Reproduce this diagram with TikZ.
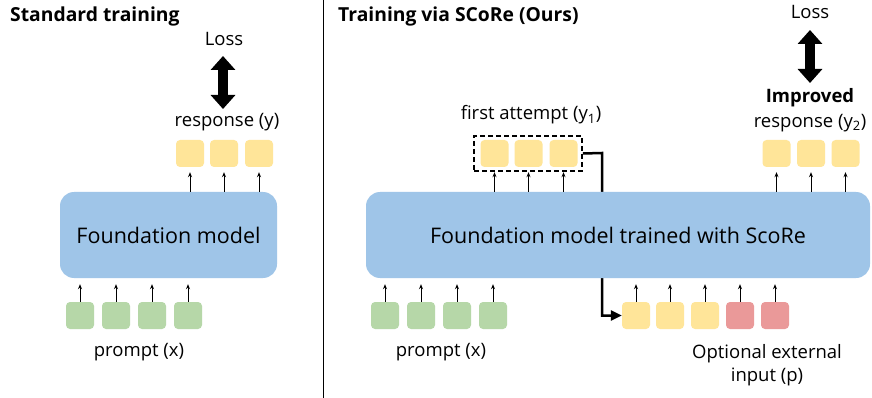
\documentclass[tikz,border=0pt]{standalone}
\usepackage{fontspec}
\setmainfont{Open Sans}
\usetikzlibrary{arrows.meta}
\definecolor{modelblue}{HTML}{9FC5E8}
\definecolor{tokyellow}{HTML}{FFE599}
\definecolor{tokgreen}{HTML}{B6D7A8}
\definecolor{tokred}{HTML}{EA9999}
\begin{document}
\begin{tikzpicture}[x=1pt,y=-1pt,
  tok/.style={rounded corners=4pt, minimum width=28pt, minimum height=27pt, inner sep=0pt},
  ytok/.style={tok, fill=tokyellow},
  gtok/.style={tok, fill=tokgreen},
  rtok/.style={tok, fill=tokred},
  model/.style={fill=modelblue, rounded corners=14pt, inner sep=0pt, font=\fontsize{21.5}{25}\selectfont},
  lbl/.style={font=\fontsize{18.5}{23}\selectfont, inner sep=0pt, align=center},
  ttl/.style={font=\fontsize{19.3}{22}\selectfont\bfseries, inner sep=0pt, anchor=west},
  small/.style={-{Stealth[length=5pt,width=4pt]}, line width=0.8pt},
  bigarr/.style={line width=10pt, {Triangle[length=14pt,width=24pt]}-{Triangle[length=14pt,width=24pt]}},
  feed/.style={line width=2.5pt, -{Triangle[length=11pt,width=10pt]}},
]
\useasboundingbox (0,0) rectangle (872,398);
\fill[white] (0,0) rectangle (872,398);

% divider
\coordinate (dtop) at (323,0);
\coordinate (dbot) at (323,398);
\draw[line width=1pt] (dtop) -- (dbot);

% ---------- left panel ----------
\node[ttl] (t1) at (10,16) {Standard training};
\node[lbl] (loss1) at (224,39) {Loss};
\node[lbl] (resp1) at (227,122) {response (y)};
\coordinate (l1a) at (223,56);
\coordinate (l1b) at (223,109);
\draw[bigarr] (l1a) -- (l1b);

\node[ytok] (r1) at (190,153.5) {};
\node[ytok] (r2) at (224,153.5) {};
\node[ytok] (r3) at (259,153.5) {};

\node[model, minimum width=217pt, minimum height=86pt] (m1) at (168.5,235) {Foundation model};

\foreach \i in {1,2,3}{
  \draw[small, shorten >=5pt] (m1.north -| r\i) -- (r\i.south);
}

\node[gtok] (p1) at (80,315.5) {};
\node[gtok] (p2) at (116,315.5) {};
\node[gtok] (p3) at (152,315.5) {};
\node[gtok] (p4) at (188,315.5) {};
\foreach \i in {1,2,3,4}{
  \draw[small, shorten >=6pt] (p\i.north) -- (p\i.north |- m1.south);
}
\node[lbl] (pl1) at (139,352) {prompt (x)};

% ---------- right panel ----------
\node[ttl] (t2) at (338,16) {Training via SCoRe (Ours)};

\node[lbl] (fa) at (531,115) {first attempt (y\textsubscript{1})};
\node[ytok] (f1) at (494.5,153.5) {};
\node[ytok] (f2) at (528.5,153.5) {};
\node[ytok] (f3) at (563.5,153.5) {};
\node[draw, dash pattern=on 5pt off 3pt, line width=1.6pt, minimum width=108pt, minimum height=35pt, inner sep=0pt] (fbox) at (528,153.5) {};

\node[lbl] (loss2) at (810,12) {Loss};
\node[lbl, font=\fontsize{18.5}{23}\selectfont\bfseries] (imp) at (810,98) {Improved};
\node[lbl] (resp2) at (810,123) {response (y\textsubscript{2})};
\coordinate (l2a) at (810,30);
\coordinate (l2b) at (810,83);
\draw[bigarr] (l2a) -- (l2b);

\node[ytok] (s1) at (776.5,153.5) {};
\node[ytok] (s2) at (811,153.5) {};
\node[ytok] (s3) at (845.5,153.5) {};

\node[ytok] (a1) at (636,315.5) {};
\node[ytok] (a2) at (670,315.5) {};
\node[ytok] (a3) at (705,315.5) {};
\node[rtok] (a4) at (740,315.5) {};
\node[rtok] (a5) at (775,315.5) {};

% feedback connector (behind model)
\coordinate (bend) at (602,153);
\draw[feed] (fbox.east) -- (bend) -- (bend |- a1.west) -- (a1.west);

\node[model, minimum width=504pt, minimum height=86pt] (m2) at (618,235) {Foundation model trained with ScoRe};

\foreach \n in {f1,f2,f3,s1,s2,s3}{
  \draw[small, shorten >=5pt] (m2.north -| \n) -- (\n.south);
}

\node[gtok] (q1) at (385,315.5) {};
\node[gtok] (q2) at (421,315.5) {};
\node[gtok] (q3) at (457,315.5) {};
\node[gtok] (q4) at (493,315.5) {};
\foreach \n in {q1,q2,q3,q4,a1,a2,a3,a4,a5}{
  \draw[small, shorten >=6pt] (\n.north) -- (\n.north |- m2.south);
}
\node[lbl] (pl2) at (441,352) {prompt (x)};
\node[lbl] (ext) at (767,365.5) {Optional external\\input (p)};
\end{tikzpicture}
\end{document}
